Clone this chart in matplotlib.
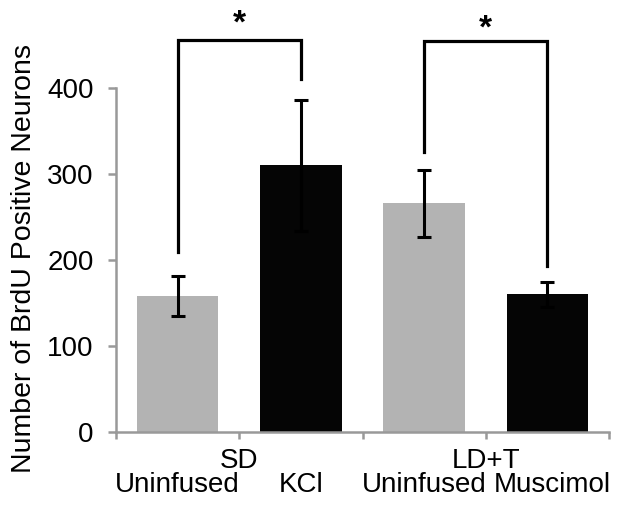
import matplotlib
matplotlib.use("Agg")
import matplotlib.pyplot as plt
import matplotlib.transforms as mtransforms

# data
groups = ["SD", "LD+T"]
conditions = ["Uninfused", "KCl", "Uninfused", "Muscimol"]
means = [158, 310, 266, 160]
errors = [23, 76, 39, 15]
bar_colors = ["#b3b3b3", "#050505", "#b3b3b3", "#050505"]

# significance brackets: (left bar, right bar, left leg end, right leg end, top)
brackets = [(0, 1, 209, 410, 456), (2, 3, 326, 193, 455)]
star_heights = [474, 468]

plt.rcParams["font.family"] = ["Liberation Sans", "DejaVu Sans"]

fig = plt.figure(figsize=(6.24, 5.16), dpi=100)
ax = fig.add_axes([116 / 624, 1 - 432 / 516, (609 - 116) / 624, (432 - 88) / 516])

x = list(range(len(means)))
ax.bar(x, means, width=0.66, color=bar_colors, zorder=2)
ax.errorbar(x, means, yerr=errors, fmt="none", ecolor="black",
            elinewidth=2.2, capsize=5, capthick=2.2, zorder=3)

for (a, b, ya, yb, top), sh in zip(brackets, star_heights):
    ax.plot([a, a, b, b], [ya, top, top, yb], color="black", lw=2.3,
            clip_on=False, solid_joinstyle="miter", zorder=4)
    ax.text((a + b) / 2, sh, "*", ha="center", va="center", fontsize=24,
            fontweight="bold", clip_on=False)

ax.set_xlim(-0.5, 3.5)
ax.set_ylim(0, 400)
ax.set_yticks([0, 100, 200, 300, 400])
ax.set_xticks([-0.5, 0.5, 1.5, 2.5, 3.5])
ax.set_xticklabels([])

for s in ["top", "right"]:
    ax.spines[s].set_visible(False)
for s in ["left", "bottom"]:
    ax.spines[s].set_color("#999999")
    ax.spines[s].set_linewidth(1.8)
ax.tick_params(axis="y", direction="out", length=6, width=1.8, color="#999999",
               labelsize=20, pad=10)
ax.tick_params(axis="x", direction="out", length=5, width=1.8, color="#999999")

trans = mtransforms.blended_transform_factory(ax.transData, ax.transAxes)
for i, g in enumerate(groups):
    ax.text(2 * i + 0.5, -0.084, g, transform=trans, ha="center", va="center",
            fontsize=20)
for i, c in enumerate(conditions):
    # last label sits a touch right in the original so it doesn't collide
    nudge = 0.04 if i == len(conditions) - 1 else 0
    ax.text(i + nudge, -0.154, c, transform=trans, ha="center", va="center",
            fontsize=20)

ax.set_ylabel("Number of BrdU Positive Neurons", fontsize=20.5)
ax.yaxis.set_label_coords(-0.16, 0.505)

fig.savefig("out.png", dpi=100)
